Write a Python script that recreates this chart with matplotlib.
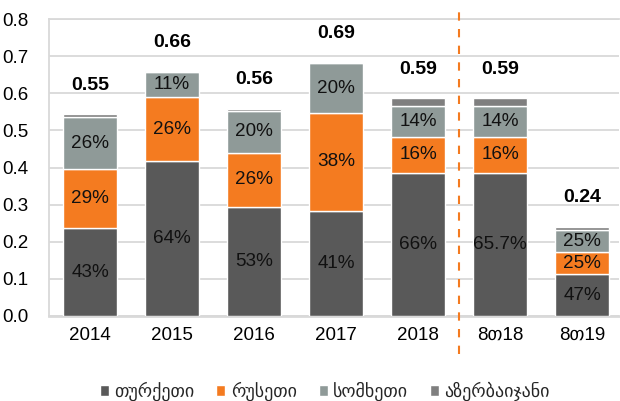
import matplotlib
matplotlib.use("Agg")
import matplotlib.pyplot as plt
import numpy as np

categories = ["2014", "2015", "2016", "2017", "2018", "8თ18", "8თ19"]
turkey = [0.236, 0.418, 0.293, 0.284, 0.386, 0.386, 0.112]
russia = [0.159, 0.171, 0.147, 0.262, 0.096, 0.096, 0.060]
armenia = [0.140, 0.069, 0.112, 0.136, 0.083, 0.083, 0.060]
azerbaijan = [0.009, 0.002, 0.006, 0.000, 0.022, 0.022, 0.008]
turkey_lbl = ["43%", "64%", "53%", "41%", "66%", "65.7%", "47%"]
russia_lbl = ["29%", "26%", "26%", "38%", "16%", "16%", "25%"]
armenia_lbl = ["26%", "11%", "20%", "20%", "14%", "14%", "25%"]
totals_lbl = ["0.55", "0.66", "0.56", "0.69", "0.59", "0.59", "0.24"]
series_names = ["თურქეთი", "რუსეთი", "სომხეთი", "აზერბაიჯანი"]
yticks = [0.0, 0.1, 0.2, 0.3, 0.4, 0.5, 0.6, 0.7, 0.8]

colors = ["#595959", "#F47B20", "#8F9A98", "#7F7F7F"]
FAM = ["Liberation Sans", "DejaVu Sans"]

fig = plt.figure(figsize=(6.2, 4.01), dpi=100)
ax = fig.add_axes([49/620, 85/401, 570/620, 297/401])

x = np.arange(len(categories))
w = 0.66
bottom = np.zeros(len(x))
data = [turkey, russia, armenia, azerbaijan]
labels = [turkey_lbl, russia_lbl, armenia_lbl, None]
for vals, col, name, lbl in zip(data, colors, series_names, labels):
    vals = np.array(vals)
    ax.bar(x, vals, w, bottom=bottom, color=col, edgecolor="white",
           linewidth=1.0, label=name, zorder=3)
    if lbl is not None:
        for xi, b, v, t in zip(x, bottom, vals, lbl):
            ax.text(xi, b + v / 2, t, ha="center", va="center",
                    fontsize=13.6, family=FAM, color="#111111", zorder=4)
    bottom = bottom + vals

for xi, tot, t in zip(x, bottom, totals_lbl):
    ax.text(xi, tot + 0.078, t, ha="center", va="center", fontsize=14,
            fontweight="bold", family=FAM, color="black", zorder=4)

ax.set_xlim(-0.5, 6.45)
ax.set_ylim(0, 0.8)
ax.set_yticks(yticks)
ax.set_yticklabels([f"{v:.1f}" for v in yticks], family=FAM, fontsize=13.5)
ax.set_xticks(x)
ax.set_xticklabels(categories, family=FAM, fontsize=13.5)
ax.tick_params(axis="both", length=0)
ax.tick_params(axis="y", pad=15)
ax.tick_params(axis="x", pad=8)
ax.grid(axis="y", color="#D9D9D9", linewidth=1.3, zorder=0)
ax.set_axisbelow(True)
for s in ["left", "top", "right"]:
    ax.spines[s].set_color("#D9D9D9")
    ax.spines[s].set_linewidth(1.3)
ax.spines["right"].set_visible(False)
ax.spines["bottom"].set_color("#D9D9D9")
ax.spines["bottom"].set_linewidth(2)

ax.plot([4.5, 4.5], [-0.103, 0.82], color="#F47B20", linestyle=(0, (4, 4)),
        linewidth=1.5, clip_on=False, zorder=5)

leg = fig.legend(loc="center", bbox_to_anchor=(0.524, 0.024), ncol=4,
                 frameon=False, handlelength=0.5, handleheight=0.5,
                 handletextpad=0.3, columnspacing=1.2,
                 prop={"family": ["DejaVu Sans"], "size": 13})
for t in leg.get_texts():
    t.set_color("#262626")

fig.savefig("out.png", dpi=100)
